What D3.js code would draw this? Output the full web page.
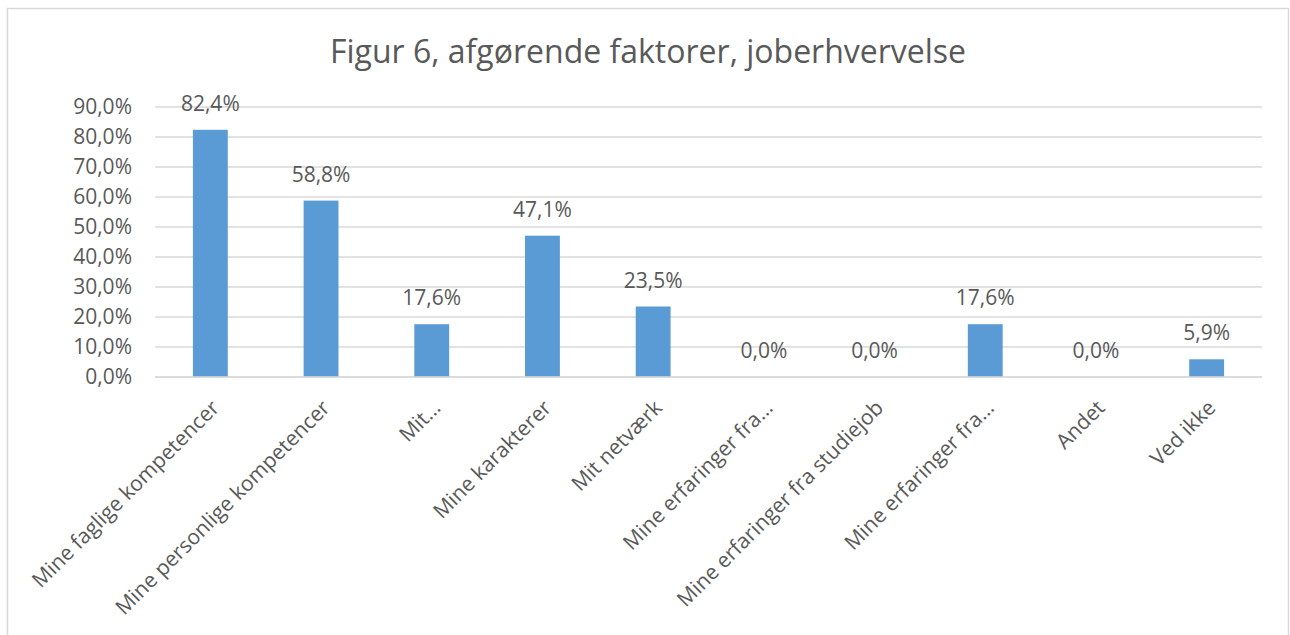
<!DOCTYPE html>
<html>
<head>
<meta charset="utf-8">
<script src="https://cdn.jsdelivr.net/npm/d3@7"></script>
<style>
  body { margin: 0; background: #fff; }
  svg { font-family: 'Open Sans', sans-serif; }
</style>
</head>
<body>
<div id="viz"></div>
<script>
const width = 1290;
const height = 635;
const margin = {top: 107, right: 28, bottom: 258, left: 155};

const title = 'Figur 6, afgørende faktorer, joberhvervelse';
const categories = [
  'Mine faglige kompetencer',
  'Mine personlige kompetencer',
  'Mit…',
  'Mine karakterer',
  'Mit netværk',
  'Mine erfaringer fra…',
  'Mine erfaringer fra studiejob',
  'Mine erfaringer fra…',
  'Andet',
  'Ved ikke'
];
const values = [82.4, 58.8, 17.6, 47.1, 23.5, 0.0, 0.0, 17.6, 0.0, 5.9];
const yTicks = [0, 10, 20, 30, 40, 50, 60, 70, 80, 90];

const barColor = '#5b9bd5';
const textColor = '#595959';
const gridColor = '#d9d9d9';

const locale = d3.formatLocale({decimal: ',', thousands: '.', grouping: [3], currency: ['', ' kr']});
const pct = v => locale.format('.1f')(v) + '%';

const svg = d3.select('#viz')
  .append('svg')
    .attr('width', width)
    .attr('height', height);

// chart border
svg.append('rect')
  .attr('x', 7.5)
  .attr('y', 8.5)
  .attr('width', width - 9)
  .attr('height', height)
  .attr('fill', 'none')
  .attr('stroke', gridColor)
  .attr('stroke-width', 1.5);

// two categories share a label, so the band scale works on the index
const xScale = d3.scaleBand()
  .domain(d3.range(categories.length))
  .range([margin.left, width - margin.right])
  .paddingInner(0.685)
  .paddingOuter(0.3425);

const yScale = d3.scaleLinear()
  .domain([0, 90])
  .range([height - margin.bottom, margin.top]);

// title
svg.append('text')
  .attr('x', 648)
  .attr('y', 63)
  .attr('text-anchor', 'middle')
  .attr('fill', textColor)
  .style('font-size', '32px')
  .text(title);

// gridlines
svg.append('g')
  .attr('class', 'grid')
  .selectAll('line')
  .data(yTicks)
  .join('line')
    .attr('x1', margin.left)
    .attr('x2', width - margin.right)
    .attr('y1', d => yScale(d))
    .attr('y2', d => yScale(d))
    .attr('stroke', gridColor)
    .attr('stroke-width', 1.5);

// y axis
const yAxis = d3.axisLeft(yScale)
  .tickValues(yTicks)
  .tickSize(0)
  .tickPadding(23)
  .tickFormat(pct);

const yAxisGroup = svg.append('g')
  .attr('transform', `translate(${margin.left},0)`)
  .call(yAxis);
yAxisGroup.select('.domain').remove();
yAxisGroup.selectAll('text')
  .attr('fill', textColor)
  .style('font-size', '21px')
  .style('font-family', "'Open Sans', sans-serif");

// bars
svg.append('g')
  .attr('class', 'bars')
  .selectAll('rect')
  .data(values)
  .join('rect')
    .attr('x', (d, i) => xScale(i))
    .attr('y', d => yScale(d))
    .attr('width', xScale.bandwidth())
    .attr('height', d => yScale(0) - yScale(d))
    .attr('fill', barColor);

// data labels
svg.append('g')
  .attr('class', 'labels')
  .selectAll('text')
  .data(values)
  .join('text')
    .attr('x', (d, i) => xScale(i) + xScale.bandwidth() / 2)
    .attr('y', d => yScale(d) - 19)
    .attr('text-anchor', 'middle')
    .attr('fill', textColor)
    .style('font-size', '21px')
    .text(d => pct(d));

// x axis line
svg.append('line')
  .attr('x1', margin.left)
  .attr('x2', width - margin.right)
  .attr('y1', yScale(0))
  .attr('y2', yScale(0))
  .attr('stroke', gridColor)
  .attr('stroke-width', 1.5);

// x labels, rotated -45deg and ending just under the bar
svg.append('g')
  .attr('class', 'x-labels')
  .selectAll('text')
  .data(categories)
  .join('text')
    .attr('transform', (d, i) => `translate(${xScale(i) + xScale.bandwidth() / 2 - 1}, ${yScale(0) + 21}) rotate(-45)`)
    .attr('text-anchor', 'end')
    .attr('dy', '0.75em')
    .attr('fill', textColor)
    .style('font-size', '21px')
    .text(d => d);
</script>
</body>
</html>
